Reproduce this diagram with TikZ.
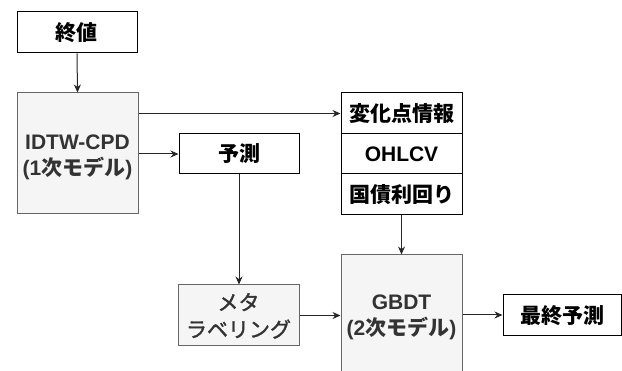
\documentclass[tikz,border=0pt]{standalone}
\usepackage{fontspec}
\setmainfont{Liberation Sans}
\newfontfamily\jp{Noto Sans CJK JP}
\newfontfamily\jpm[FakeBold=1.5]{Noto Sans CJK JP}
\usetikzlibrary{arrows.meta}
\definecolor{grayfill}{HTML}{F5F5F5}
\definecolor{grayline}{HTML}{666666}
\definecolor{graytext}{HTML}{333333}
\newcommand{\twolines}[3]{\raisebox{#1}[0pt][0pt]{\begin{tabular}{@{}c@{}}#2\\#3\end{tabular}}}
\begin{document}
\begin{tikzpicture}[x=1pt,y=-1pt,
  base/.style={draw, line width=1pt, inner sep=0pt, align=center, font=\fontsize{21}{25}\selectfont\bfseries},
  wbox/.style={base, fill=white, draw=black, text=black},
  gbox/.style={base, fill=grayfill, draw=grayline, text=graytext},
  arr/.style={-{Stealth[length=8pt,width=7pt]}, line width=1pt, draw=black!85}]
\useasboundingbox (0,0) rectangle (622,371);
\node[wbox, minimum width=120pt, minimum height=41pt] (owari) at (77,32.5) {\jp 終値};
\node[gbox, minimum width=121pt, minimum height=121pt] (idtw) at (77.5,153.5) {\twolines{-9pt}{IDTW-CPD}{(1{\jp 次モデル})}};
\node[wbox, minimum width=120pt, minimum height=40pt] (yosoku) at (239,154) {\jp 予測};
\node[wbox, minimum width=121pt, minimum height=41pt] (henka) at (401.5,113.5) {\jp 変化点情報};
\node[wbox, minimum width=121pt, minimum height=40pt] (ohlcv) at (401.5,154) {OHLCV};
\node[wbox, minimum width=121pt, minimum height=41pt] (kokusai) at (401.5,194.5) {\jp 国債利回り};
\node[gbox, minimum width=121pt, minimum height=61pt, font=\fontsize{21}{27}\selectfont\mdseries] (meta) at (238.5,315.5) {\twolines{-8pt}{\jpm メタ}{\jpm ラベリング}};
\node[gbox, minimum width=121pt, minimum height=120pt] (gbdt) at (401.5,315) {\twolines{-8pt}{GBDT}{(2{\jp 次モデル})}};
\node[wbox, minimum width=118pt, minimum height=41pt] (saishu) at (562,315.5) {\jp 最終予測};
\draw[arr] (owari.south) -- (idtw.north);
\draw[arr] (idtw.east |- henka.west) -- (henka.west);
\draw[arr] (idtw.east |- yosoku.west) -- (yosoku.west);
\draw[arr] (kokusai.south) -- (gbdt.north);
\draw[arr] (yosoku.south) -- (yosoku.south |- meta.north);
\draw[arr] (meta.east) -- (meta.east -| gbdt.west);
\draw[arr] (gbdt.east) -- (gbdt.east -| saishu.west);
\end{tikzpicture}
\end{document}
